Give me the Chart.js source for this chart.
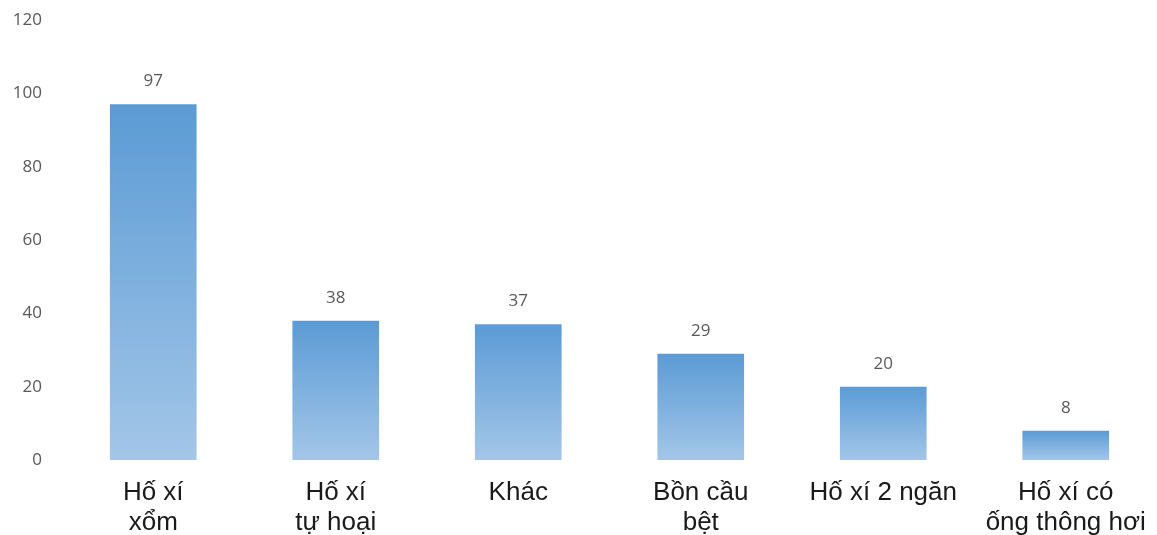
<!DOCTYPE html>
<html>
<head>
<meta charset="utf-8">
<script src="https://cdn.jsdelivr.net/npm/chart.js@4.4.1/dist/chart.umd.min.js"></script>
<style>
  html, body { margin: 0; padding: 0; background: #ffffff; }
  #wrap { width: 1157px; height: 535px; position: relative; }
</style>
</head>
<body>
<div id="wrap"><canvas id="c"></canvas></div>
<script>
const categories = [
  ["Hố xí", "xổm"],
  ["Hố xí", "tự hoại"],
  "Khác",
  ["Bồn cầu", "bệt"],
  "Hố xí 2 ngăn",
  ["Hố xí có", "ống thông hơi"]
];
const values = [97, 38, 37, 29, 20, 8];
const yTicks = [0, 20, 40, 60, 80, 100, 120];

function barGradient(ctx) {
  const chart = ctx.chart;
  const area = chart.chartArea;
  if (!area || ctx.dataIndex === undefined) return '#5b9bd5';
  const ys = chart.scales.y;
  const top = ys.getPixelForValue(ctx.raw);
  const base = ys.getPixelForValue(0);
  const g = chart.ctx.createLinearGradient(0, top, 0, base);
  g.addColorStop(0, '#5b9bd5');
  g.addColorStop(1, '#a3c6e8');
  return g;
}

const valueLabels = {
  id: 'valueLabels',
  afterDatasetsDraw(chart) {
    const c = chart.ctx;
    const meta = chart.getDatasetMeta(0);
    c.save();
    c.font = '17px "Open Sans", "DejaVu Sans", sans-serif';
    c.fillStyle = '#595959';
    c.textAlign = 'center';
    c.textBaseline = 'middle';
    meta.data.forEach((el, i) => {
      c.fillText(String(values[i]), el.x, el.y - 23);
    });
    c.restore();
  }
};

new Chart(document.getElementById('c'), {
  type: 'bar',
  data: {
    labels: categories,
    datasets: [{
      data: values,
      backgroundColor: barGradient,
      borderWidth: 0,
      categoryPercentage: 1.0,
      barPercentage: 0.475
    }]
  },
  options: {
    responsive: true,
    maintainAspectRatio: false,
    animation: false,
    layout: { padding: { left: 6, right: 0, top: 20, bottom: 0 } },
    plugins: {
      legend: { display: false },
      tooltip: { enabled: false }
    },
    scales: {
      x: {
        grid: { display: false, drawTicks: false },
        border: { display: false },
        afterFit(axis) { axis.height = 75; axis.paddingLeft = 0; axis.paddingRight = 0; },
        ticks: {
          color: '#1a1a1a',
          font: { family: '"Liberation Sans", Arial, sans-serif', size: 26, lineHeight: 1.15 },
          padding: 18,
          maxRotation: 0,
          autoSkip: false
        }
      },
      y: {
        min: 0,
        max: 120,
        afterBuildTicks(axis) { axis.ticks = yTicks.map(v => ({ value: v })); },
        afterFit(axis) { axis.width = 56; axis.paddingTop = 0; axis.paddingBottom = 0; },
        grid: { display: false, drawTicks: false },
        border: { display: false },
        ticks: {
          color: '#595959',
          font: { family: '"Open Sans", "DejaVu Sans", sans-serif', size: 17 },
          padding: 20
        }
      }
    }
  },
  plugins: [valueLabels]
});
</script>
</body>
</html>
